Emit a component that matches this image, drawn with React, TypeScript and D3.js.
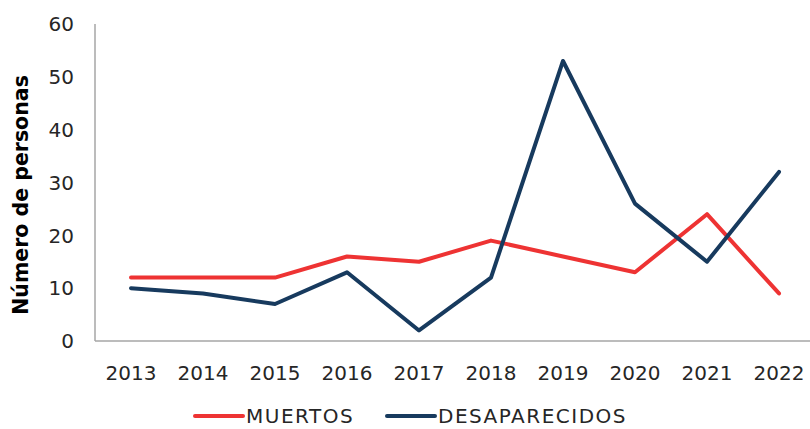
import React from "react";
import * as d3 from "d3";

const years = ["2013", "2014", "2015", "2016", "2017", "2018", "2019", "2020", "2021", "2022"];
const muertos = [12, 12, 12, 16, 15, 19, 16, 13, 24, 9];
const desaparecidos = [10, 9, 7, 13, 2, 12, 53, 26, 15, 32];
const yTicks = [0, 10, 20, 30, 40, 50, 60];
const seriesNames = ["MUERTOS", "DESAPARECIDOS"];
const seriesColors = ["#EE3333", "#173A5E"];

const W = 810;
const H = 429;
const FONT = "'DejaVu Sans', sans-serif";

export default function App() {
  const x = d3.scaleBand<string>().domain(years).range([95, 815]);
  const y = d3.scaleLinear().domain([0, 60]).range([341, 24]);
  const line = d3
    .line<number>()
    .x((_, i) => (x(years[i]) as number) + x.bandwidth() / 2)
    .y((d) => y(d));
  const data = [muertos, desaparecidos];
  const legendX = [195, 387];

  return (
    <svg
      width={W}
      height={H}
      style={{ position: "absolute", left: 0, top: 0, background: "#fff" }}
    >
      <rect width={W} height={H} fill="#fff" />
      {yTicks.map((t) => (
        <text
          key={t}
          x={74}
          y={y(t)}
          dy="0.36em"
          textAnchor="end"
          fontFamily={FONT}
          fontSize={20}
          fill="#262626"
        >
          {t}
        </text>
      ))}
      {years.map((yr) => (
        <text
          key={yr}
          x={(x(yr) as number) + x.bandwidth() / 2}
          y={380}
          textAnchor="middle"
          fontFamily={FONT}
          fontSize={20}
          fill="#262626"
        >
          {yr}
        </text>
      ))}
      <line x1={95} x2={95} y1={y(60)} y2={y(0)} stroke="#A6A6A6" strokeWidth={1.5} />
      <line x1={95} x2={W} y1={y(0)} y2={y(0)} stroke="#A6A6A6" strokeWidth={1.5} />
      <text
        transform={`translate(28,195) rotate(-90)`}
        textAnchor="middle"
        fontFamily={FONT}
        fontWeight="bold"
        fontSize={20.5}
        fill="#000"
      >
        Número de personas
      </text>
      {data.map((d, i) => (
        <path
          key={i}
          d={line(d) as string}
          fill="none"
          stroke={seriesColors[i]}
          strokeWidth={4}
          strokeLinejoin="round"
          strokeLinecap="round"
        />
      ))}
      {seriesNames.map((n, i) => (
        <g key={n}>
          <line
            x1={legendX[i]}
            x2={legendX[i] + 48}
            y1={416}
            y2={416}
            stroke={seriesColors[i]}
            strokeWidth={4}
            strokeLinecap="round"
          />
          <text
            x={legendX[i] + 51}
            y={423}
            fontFamily={FONT}
            fontSize={20}
            letterSpacing={1.5}
            fill="#262626"
          >
            {n}
          </text>
        </g>
      ))}
    </svg>
  );
}
